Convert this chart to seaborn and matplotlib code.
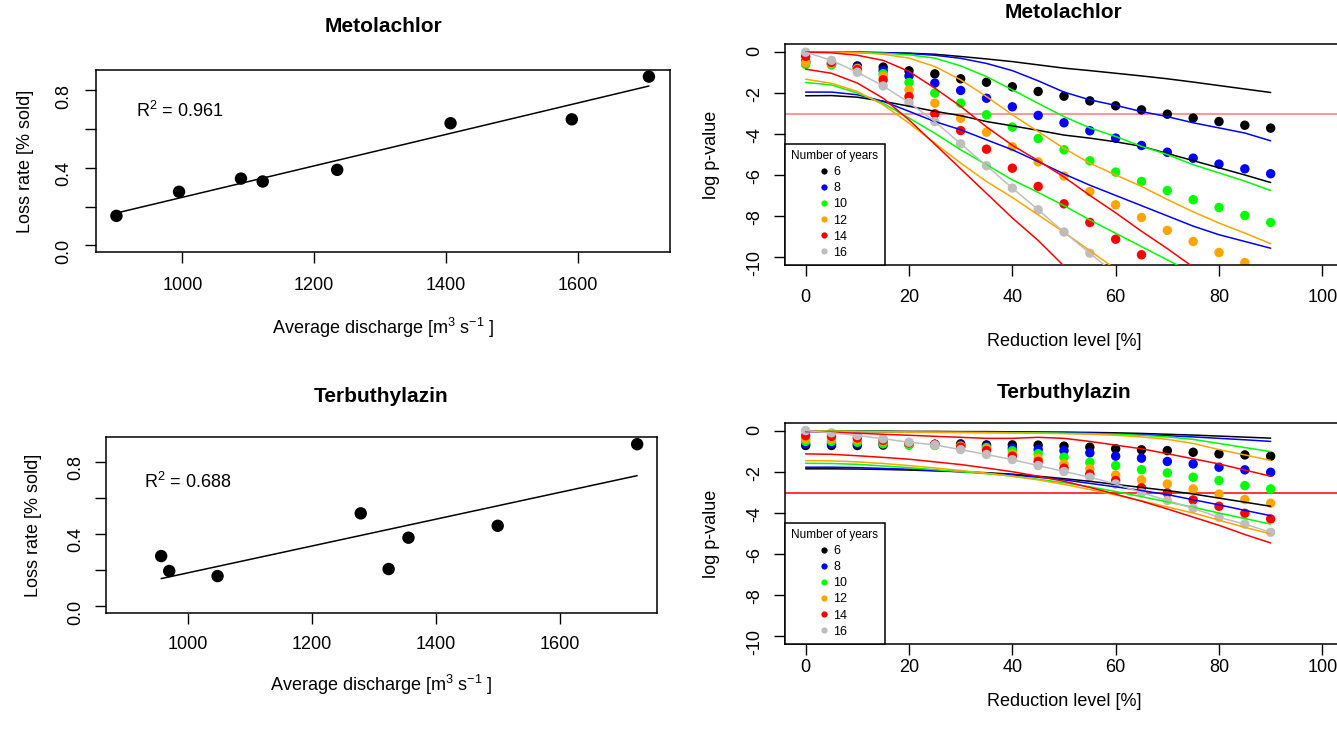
import numpy as np
import pandas as pd
import matplotlib
matplotlib.use('Agg')
import matplotlib.pyplot as plt
from matplotlib.lines import Line2D
import seaborn as sns

nan = np.nan

# ---- left panels: loss rate vs. discharge ----
met_discharge = [900, 995, 1089, 1122, 1235, 1407, 1591, 1708]
met_loss = [0.152, 0.276, 0.344, 0.329, 0.389, 0.629, 0.649, 0.869]
ter_discharge = [957, 970, 1048, 1279, 1324, 1356, 1500, 1725]
ter_loss = [0.277, 0.194, 0.166, 0.514, 0.205, 0.379, 0.445, 0.898]
met_r2 = "0.961"
ter_r2 = "0.688"

# ---- right panels: log p-value vs. reduction level ----
reduction = [0, 5, 10, 15, 20, 25, 30, 35, 40, 45, 50, 55, 60, 65, 70, 75, 80, 85, 90]
years = [6, 8, 10, 12, 14, 16]
year_colors = ['black', '#0000FF', '#00FF00', '#FFA500', '#FF0000', '#BEBEBE']

# Metolachlor: points (mean) per number of years
met_pts_6 = [-0.45, -0.55, -0.67, -0.73, -0.91, -1.06, -1.3, -1.47, -1.69, -1.92, -2.15, -2.38, -2.62, -2.82, -3.03, -3.22, -3.39, -3.57, -3.71]
met_pts_8 = [-0.5, -0.6, -0.72, -0.9, -1.16, -1.51, -1.87, -2.25, -2.67, -3.09, -3.45, -3.84, -4.2, -4.56, -4.89, -5.18, -5.47, -5.7, -5.94]
met_pts_10 = [-0.6, -0.62, -0.8, -1.05, -1.48, -2.0, -2.49, -3.06, -3.66, -4.22, -4.77, -5.31, -5.86, -6.32, -6.76, -7.21, -7.59, -7.98, -8.32]
met_pts_12 = [-0.5, -0.55, -0.8, -1.18, -1.84, -2.49, -3.23, -3.91, -4.62, -5.36, -6.05, -6.81, -7.46, -8.08, -8.71, -9.25, -9.79, -10.28, nan]
met_pts_14 = [-0.2, -0.5, -0.85, -1.35, -2.17, -3.01, -3.83, -4.74, -5.67, -6.56, -7.41, -8.32, -9.14, -9.9, nan, nan, nan, nan, nan]
met_pts_16 = [0.0, -0.4, -0.98, -1.65, -2.46, -3.39, -4.48, -5.55, -6.64, -7.7, -8.79, -9.82, nan, nan, nan, nan, nan, nan, nan]

# Metolachlor: upper / lower curves
met_up_6 = [0, 0, 0, -0.02, -0.05, -0.1, -0.21, -0.33, -0.46, -0.62, -0.78, -0.9, -1.03, -1.16, -1.3, -1.46, -1.63, -1.8, -1.97]
met_up_8 = [0, 0, -0.01, -0.03, -0.06, -0.15, -0.3, -0.55, -0.9, -1.4, -1.95, -2.33, -2.6, -2.9, -3.15, -3.45, -3.7, -3.95, -4.33]
met_up_10 = [0, 0, -0.02, -0.05, -0.13, -0.29, -0.67, -1.19, -1.84, -2.5, -3.15, -3.7, -4.12, -4.6, -5.0, -5.5, -5.9, -6.3, -6.76]
met_up_12 = [0, 0, -0.02, -0.1, -0.29, -0.7, -1.35, -2.17, -3.06, -3.88, -4.7, -5.42, -6.0, -6.56, -7.2, -7.8, -8.35, -8.84, -9.36]
met_up_14 = [0, -0.03, -0.15, -0.4, -0.94, -1.76, -2.65, -3.65, -4.55, -5.3, -6.1, -7.0, -7.85, -8.75, -9.6, -10.5, -11.35, nan, nan]
met_line_16 = [0.0, -0.4, -0.98, -1.65, -2.46, -3.39, -4.48, -5.55, -6.64, -7.7, -8.79, -9.82, -10.85, nan, nan, nan, nan, nan, nan]
met_lo_6 = [-2.13, -2.12, -2.2, -2.4, -2.64, -2.89, -3.1, -3.39, -3.6, -3.82, -4.05, -4.2, -4.38, -4.6, -4.95, -5.3, -5.65, -6.0, -6.37]
met_lo_8 = [-1.95, -1.95, -2.08, -2.4, -2.89, -3.39, -3.79, -4.28, -4.77, -5.35, -5.95, -6.5, -7.0, -7.5, -8.0, -8.5, -8.92, -9.25, -9.58]
met_lo_10 = [-1.48, -1.6, -2.0, -2.5, -3.22, -3.96, -4.77, -5.5, -6.24, -6.85, -7.5, -8.2, -8.85, -9.5, -10.15, -10.8, nan, nan, nan]
met_lo_12 = [-1.32, -1.52, -1.92, -2.57, -3.47, -4.45, -5.42, -6.32, -7.1, -7.95, -8.8, -9.7, -10.6, nan, nan, nan, nan, nan, nan]
met_lo_14 = [-0.83, -1.03, -1.51, -2.25, -3.31, -4.5, -5.7, -6.9, -8.1, -9.2, -10.45, -11.8, nan, nan, nan, nan, nan, nan, nan]

# Terbuthylazin: points
ter_pts_6 = [-0.7, -0.7, -0.7, -0.68, -0.66, -0.64, -0.62, -0.67, -0.67, -0.68, -0.73, -0.78, -0.86, -0.91, -0.95, -1.03, -1.11, -1.16, -1.22]
ter_pts_8 = [-0.62, -0.62, -0.62, -0.6, -0.62, -0.65, -0.68, -0.75, -0.83, -0.9, -0.95, -1.06, -1.22, -1.32, -1.48, -1.6, -1.76, -1.89, -2.01]
ter_pts_10 = [-0.5, -0.5, -0.54, -0.62, -0.68, -0.7, -0.75, -0.8, -0.96, -1.1, -1.27, -1.52, -1.68, -1.88, -2.04, -2.25, -2.41, -2.66, -2.82]
ter_pts_12 = [-0.38, -0.38, -0.42, -0.5, -0.6, -0.68, -0.73, -0.86, -1.11, -1.32, -1.6, -1.84, -2.14, -2.38, -2.58, -2.82, -3.07, -3.34, -3.52]
ter_pts_14 = [-0.22, -0.25, -0.33, -0.45, -0.58, -0.64, -0.78, -0.94, -1.22, -1.48, -1.81, -2.09, -2.41, -2.77, -3.02, -3.36, -3.67, -4.01, -4.29]
ter_pts_16 = [0.03, -0.08, -0.21, -0.37, -0.54, -0.67, -0.9, -1.14, -1.39, -1.68, -1.97, -2.25, -2.58, -3.0, -3.39, -3.77, -4.21, -4.54, -4.94]

# Terbuthylazin: upper / lower curves
ter_up_6 = [0, 0, 0, 0, -0.01, -0.01, -0.02, -0.02, -0.03, -0.04, -0.05, -0.06, -0.08, -0.11, -0.15, -0.19, -0.24, -0.29, -0.34]
ter_up_8 = [-0.02, -0.02, -0.02, -0.03, -0.03, -0.04, -0.04, -0.05, -0.05, -0.06, -0.06, -0.09, -0.12, -0.17, -0.22, -0.28, -0.35, -0.42, -0.5]
ter_up_10 = [0, 0, -0.01, -0.02, -0.03, -0.04, -0.05, -0.06, -0.07, -0.08, -0.1, -0.12, -0.15, -0.2, -0.28, -0.4, -0.6, -0.8, -1.0]
ter_up_12 = [0, 0, -0.02, -0.03, -0.05, -0.06, -0.07, -0.08, -0.09, -0.1, -0.12, -0.15, -0.2, -0.28, -0.4, -0.6, -0.9, -1.16, -1.43]
ter_up_14 = [0, -0.05, -0.1, -0.15, -0.2, -0.25, -0.3, -0.35, -0.35, -0.3, -0.35, -0.5, -0.68, -0.86, -1.1, -1.35, -1.6, -1.9, -2.2]
ter_line_16 = [0.03, -0.08, -0.21, -0.37, -0.54, -0.67, -0.9, -1.14, -1.39, -1.68, -1.97, -2.25, -2.58, -3.0, -3.39, -3.77, -4.21, -4.54, -4.94]
ter_lo_6 = [-1.84, -1.84, -1.85, -1.87, -1.9, -1.94, -1.98, -2.03, -2.1, -2.2, -2.32, -2.45, -2.6, -2.75, -2.9, -3.07, -3.27, -3.47, -3.67]
ter_lo_8 = [-1.76, -1.76, -1.78, -1.82, -1.86, -1.92, -1.98, -2.05, -2.14, -2.25, -2.38, -2.55, -2.72, -2.9, -3.1, -3.35, -3.6, -3.87, -4.13]
ter_lo_10 = [-1.57, -1.58, -1.62, -1.7, -1.78, -1.88, -1.98, -2.08, -2.2, -2.35, -2.52, -2.72, -2.95, -3.2, -3.45, -3.72, -4.0, -4.27, -4.54]
ter_lo_12 = [-1.44, -1.45, -1.5, -1.58, -1.68, -1.8, -1.92, -2.05, -2.2, -2.38, -2.6, -2.85, -3.12, -3.4, -3.7, -4.0, -4.35, -4.7, -5.02]
ter_lo_14 = [-1.11, -1.13, -1.2, -1.28, -1.37, -1.5, -1.63, -1.8, -1.98, -2.2, -2.45, -2.75, -3.08, -3.42, -3.8, -4.2, -4.6, -5.05, -5.46]

threshold = -3

# ---- style ----
sns.set_style('white')
plt.rcParams['font.family'] = ['Liberation Sans', 'DejaVu Sans']
plt.rcParams['mathtext.fontset'] = 'custom'
plt.rcParams['mathtext.rm'] = 'Liberation Sans'
plt.rcParams['mathtext.default'] = 'regular'
plt.rcParams['axes.unicode_minus'] = False
plt.rcParams['axes.edgecolor'] = 'black'
plt.rcParams['axes.linewidth'] = 1.1
plt.rcParams['text.color'] = 'black'
plt.rcParams['axes.labelcolor'] = 'black'
plt.rcParams['xtick.color'] = 'black'
plt.rcParams['ytick.color'] = 'black'

W, H = 1337, 729


def add_axes_px(fig, l, t, r, b):
    return fig.add_axes([l / W, 1 - b / H, (r - l) / W, (b - t) / H])


def place_text(ax, box, title, title_y, xlabel, xlabel_y, ylabel, ylabel_x):
    l, t, r, b = box
    ax.set_title(title, fontsize=15, fontweight='bold', y=(b - title_y) / (b - t),
                 pad=0, va='center', color='black')
    ax.set_xlabel(xlabel, fontsize=13)
    ax.set_ylabel(ylabel, fontsize=13)
    ax.xaxis.set_label_coords(0.5, (b - xlabel_y) / (b - t))
    ax.xaxis.label.set_va('center')
    ax.yaxis.set_label_coords((ylabel_x - l) / (r - l), 0.5)
    ax.yaxis.label.set_va('center')


def style_ticks(ax, xpad, ypad):
    ax.tick_params(direction='out', length=8, width=1, labelsize=13, colors='black')
    ax.tick_params(axis='x', pad=xpad, bottom=True)
    ax.tick_params(axis='y', pad=ypad, left=True, labelrotation=90)
    for s in ax.spines.values():
        s.set_visible(True)
        s.set_color('black')


def loss_panel(ax, x, y, r2, xlim, ylim, r2_pos):
    sns.regplot(x=x, y=y, ax=ax, ci=None, color='black', truncate=True,
                scatter_kws={'s': 80, 'edgecolor': 'none', 'alpha': 1},
                line_kws={'lw': 1.1})
    ax.set_xlim(xlim)
    ax.set_ylim(ylim)
    ax.set_xticks([1000, 1200, 1400, 1600])
    ax.set_yticks([0, 0.2, 0.4, 0.6, 0.8])
    ax.set_yticklabels(['0.0', '', '0.4', '', '0.8'])
    ax.text(r2_pos[0], r2_pos[1], 'R$^{2}$ = ' + r2, fontsize=13, ha='left', va='center')


def long_frame(lists, kind):
    frames = []
    for yr, vals in zip(years, lists):
        frames.append(pd.DataFrame({'reduction': reduction, 'value': vals,
                                    'years': yr, 'bound': kind}))
    return frames


def pvalue_panel(ax, pts, ups, los, line16, red_col):
    palette = dict(zip(years, year_colors))
    pts_df = pd.concat(long_frame(pts, 'mean')).dropna()
    line_frames = long_frame(ups + [line16], 'upper') + long_frame(los, 'lower')
    lines_df = pd.concat(line_frames).dropna()
    lines_df['unit'] = lines_df['bound'] + lines_df['years'].astype(str)

    ax.axhline(threshold, color=red_col, lw=1.1, zorder=1)
    sns.scatterplot(data=pts_df, x='reduction', y='value', hue='years', palette=palette,
                    s=46, edgecolor='none', legend=False, ax=ax, zorder=2)
    sns.lineplot(data=lines_df, x='reduction', y='value', hue='years', units='unit',
                 estimator=None, palette=palette, lw=1.1, legend=False, ax=ax,
                 sort=True, zorder=3)
    ax.set_xlim(-4, 104)
    ax.set_ylim(-10.4, 0.4)
    ax.set_xticks([0, 20, 40, 60, 80, 100])
    ax.set_yticks([0, -2, -4, -6, -8, -10])

    handles = [Line2D([], [], ls='none', marker='o', ms=4.5, color=c, mec='none', label=str(yr))
               for yr, c in zip(years, year_colors)]
    leg = ax.legend(handles=handles, title='Number of years', loc='lower left',
                    bbox_to_anchor=(0, 0), borderaxespad=0, fontsize=9,
                    title_fontsize=8.5, frameon=True, fancybox=False, framealpha=1,
                    edgecolor='black', borderpad=0.5, labelspacing=0.33,
                    handlelength=5.2, handletextpad=-1.82, alignment='left')
    leg.get_frame().set_linewidth(1.1)
    leg.set_zorder(5)


fig = plt.figure(figsize=(W / 100, H / 100), dpi=100)

# top-left: Metolachlor loss rate
box_tl = (96, 70, 670, 252)
ax_tl = add_axes_px(fig, *box_tl)
loss_panel(ax_tl, met_discharge, met_loss, met_r2, (869, 1740), (-0.034, 0.903), (930, 0.692))
style_ticks(ax_tl, xpad=10, ypad=9)
place_text(ax_tl, box_tl, 'Metolachlor', 26, 'Average discharge [m$^{3}$ s$^{-1}$ ]', 328,
           'Loss rate [% sold]', 25)

# bottom-left: Terbuthylazin loss rate
box_bl = (106, 437, 657, 613)
ax_bl = add_axes_px(fig, *box_bl)
loss_panel(ax_bl, ter_discharge, ter_loss, ter_r2, (868, 1757), (-0.039, 0.938), (930, 0.689))
style_ticks(ax_bl, xpad=8.5, ypad=8)
place_text(ax_bl, box_bl, 'Terbuthylazin', 396, 'Average discharge [m$^{3}$ s$^{-1}$ ]', 685,
           'Loss rate [% sold]', 34)

# top-right: Metolachlor p-values
box_tr = (785, 44, 1343, 265)
ax_tr = add_axes_px(fig, *box_tr)
pvalue_panel(ax_tr, [met_pts_6, met_pts_8, met_pts_10, met_pts_12, met_pts_14, met_pts_16],
             [met_up_6, met_up_8, met_up_10, met_up_12, met_up_14],
             [met_lo_6, met_lo_8, met_lo_10, met_lo_12, met_lo_14],
             met_line_16, '#FF7A7A')
style_ticks(ax_tr, xpad=9.5, ypad=7.7)
place_text(ax_tr, box_tr, 'Metolachlor', 13, 'Reduction level [%]', 342, 'log p-value', 712)

# bottom-right: Terbuthylazin p-values
box_br = (785, 423, 1343, 644)
ax_br = add_axes_px(fig, *box_br)
pvalue_panel(ax_br, [ter_pts_6, ter_pts_8, ter_pts_10, ter_pts_12, ter_pts_14, ter_pts_16],
             [ter_up_6, ter_up_8, ter_up_10, ter_up_12, ter_up_14],
             [ter_lo_6, ter_lo_8, ter_lo_10, ter_lo_12, ter_lo_14],
             ter_line_16, '#FF0000')
style_ticks(ax_br, xpad=3, ypad=7.7)
place_text(ax_br, box_br, 'Terbuthylazin', 392, 'Reduction level [%]', 701, 'log p-value', 712)

fig.savefig('out.png', dpi=100)
